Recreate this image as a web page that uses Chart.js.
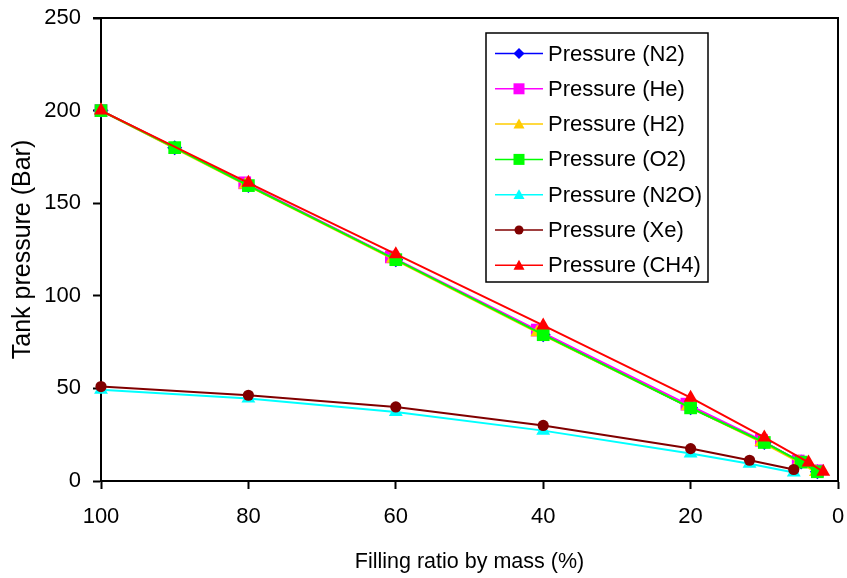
<!DOCTYPE html>
<html>
<head>
<meta charset="utf-8">
<script src="https://cdn.jsdelivr.net/npm/chart.js@4.4.1/dist/chart.umd.min.js"></script>
<style>
  body { margin: 0; background: #fff; }
</style>
</head>
<body>
<canvas id="pressureChart" width="847" height="578"></canvas>
<script>
// filling ratio (%) and tank pressure (bar) for each gas
const fillN2 = [100, 90, 80, 60, 40, 20, 10, 5, 2.8]
const presN2 = [200, 180, 159.5, 119.5, 79, 39.5, 20.8, 10.2, 5]

const fillHe = [100, 80.5, 60.6, 40.8, 20.5, 10.4, 5.4, 2.8]
const presHe = [200, 161, 121, 81.5, 41.5, 22, 10.8, 5.5]

const fillH2 = [100, 80.4, 60.4, 40.8, 20.4, 10.4, 5.3, 3]
const presH2 = [200, 160, 120, 80.3, 40.3, 21, 10.2, 4.8]

const fillO2 = [100, 90, 80, 60, 40, 20, 10, 5, 2.8]
const presO2 = [200, 180, 159.5, 119.5, 79, 39.5, 20.8, 10.2, 5]

const fillN2O = [100, 80, 60, 40, 20, 12, 6]
const presN2O = [49.3, 44.5, 37.2, 27.2, 14.8, 9.3, 4.6]

const fillXe = [100, 80, 60, 40, 20, 12, 6]
const presXe = [51, 46.3, 40, 30, 17.5, 11.2, 6.2]

const fillCH4 = [100, 80, 60, 40, 20, 10, 4, 2]
const presCH4 = [200, 161, 122.5, 84, 45, 23.5, 10, 5]

const xTicks = [100, 80, 60, 40, 20, 0]
const yTicks = [0, 50, 100, 150, 200, 250]

const FONT = "'Liberation Sans', Arial, sans-serif"

function points(xs, ys) {
    return xs.map((x, i) => ({ x: x, y: ys[i] }))
}

let gases = [
    { label: "Pressure (N2)", xs: fillN2, ys: presN2, color: "#0000FF", style: "rectRot", r: 7.5 },
    { label: "Pressure (He)", xs: fillHe, ys: presHe, color: "#FF00FF", style: "rect", r: 9 },
    { label: "Pressure (H2)", xs: fillH2, ys: presH2, color: "#FFCC00", style: "triangle", r: 8 },
    { label: "Pressure (O2)", xs: fillO2, ys: presO2, color: "#00FF00", style: "rect", r: 9 },
    { label: "Pressure (N2O)", xs: fillN2O, ys: presN2O, color: "#00FFFF", style: "triangle", r: 8 },
    { label: "Pressure (Xe)", xs: fillXe, ys: presXe, color: "#800000", style: "circle", r: 5.6 },
    { label: "Pressure (CH4)", xs: fillCH4, ys: presCH4, color: "#FF0000", style: "triangle", r: 8 }
]

// last series sits on top, like the spreadsheet it came from
let datasets = gases.map((g, i) => ({
    label: g.label,
    data: points(g.xs, g.ys),
    borderColor: g.color,
    backgroundColor: g.color,
    borderWidth: 2,
    pointStyle: g.style,
    pointRadius: g.r,
    pointBorderWidth: 0,
    pointBackgroundColor: g.color,
    tension: 0,
    clip: false,
    order: gases.length - i
}))

// small marker shapes for the legend box
function marker(ctx, style, x, y, r) {
    ctx.beginPath()
    if (style == "rect") {
        ctx.rect(x - r, y - r, 2 * r, 2 * r)
    } else if (style == "rectRot") {
        ctx.moveTo(x, y - r)
        ctx.lineTo(x + r, y)
        ctx.lineTo(x, y + r)
        ctx.lineTo(x - r, y)
        ctx.closePath()
    } else if (style == "triangle") {
        ctx.moveTo(x, y - r)
        ctx.lineTo(x + r, y + r * 0.8)
        ctx.lineTo(x - r, y + r * 0.8)
        ctx.closePath()
    } else {
        ctx.arc(x, y, r, 0, Math.PI * 2)
    }
    ctx.fill()
}

const plotFrame = {
    id: "plotFrame",
    beforeDatasetsDraw(chart) {
        const { ctx, chartArea } = chart
        ctx.save()
        ctx.strokeStyle = "#000"
        ctx.lineWidth = 2
        ctx.beginPath()
        ctx.moveTo(chartArea.left - 8, chartArea.top)
        ctx.lineTo(chartArea.right, chartArea.top)
        ctx.lineTo(chartArea.right, chartArea.bottom)
        ctx.stroke()
        ctx.restore()
    }
}

const boxLegend = {
    id: "boxLegend",
    afterDraw(chart) {
        const { ctx, chartArea } = chart
        const left = chartArea.right - 352
        const top = chartArea.top + 15
        const w = 222
        const h = 249
        ctx.save()
        ctx.fillStyle = "#fff"
        ctx.fillRect(left, top, w, h)
        ctx.strokeStyle = "#000"
        ctx.lineWidth = 1.5
        ctx.strokeRect(left, top, w, h)
        ctx.font = "22px " + FONT
        ctx.textBaseline = "middle"
        gases.forEach((g, i) => {
            const y = top + 20.5 + i * 35.3
            ctx.strokeStyle = g.color
            ctx.fillStyle = g.color
            ctx.lineWidth = 1.5
            ctx.beginPath()
            ctx.moveTo(left + 9, y)
            ctx.lineTo(left + 57, y)
            ctx.stroke()
            marker(ctx, g.style, left + 33, y, g.style == "circle" ? 4.5 : 5.5)
            ctx.fillStyle = "#000"
            ctx.fillText(g.label, left + 62, y + 1)
        })
        ctx.restore()
    }
}

new Chart("pressureChart", {
    type: "line",
    data: { datasets: datasets },
    plugins: [plotFrame, boxLegend],
    options: {
        responsive: false,
        animation: false,
        layout: { padding: { top: 18, right: 6, left: 0, bottom: 0 } },
        plugins: {
            legend: { display: false },
            tooltip: { enabled: false }
        },
        scales: {
            x: {
                type: "linear",
                reverse: true,
                min: 0,
                max: 100,
                afterBuildTicks: s => { s.ticks = xTicks.map(v => ({ value: v })) },
                afterFit: s => {
                    s.height = 97
                    s.paddingLeft = 0
                    s.paddingRight = 0
                },
                ticks: { color: "#000", font: { family: FONT, size: 22 }, padding: 15 },
                grid: { drawOnChartArea: false, tickLength: 8, tickWidth: 2, tickColor: "#000" },
                border: { color: "#000", width: 2 },
                title: {
                    display: true,
                    text: "Filling ratio by mass (%)",
                    color: "#000",
                    font: { family: FONT, size: 21.5 },
                    padding: { top: 0, bottom: 3 }
                }
            },
            y: {
                min: 0,
                max: 250,
                afterBuildTicks: s => { s.ticks = yTicks.map(v => ({ value: v })) },
                afterFit: s => {
                    s.width = 101
                    s.paddingTop = 0
                    s.paddingBottom = 0
                },
                ticks: { color: "#000", font: { family: FONT, size: 22 }, padding: 12 },
                grid: { drawOnChartArea: false, tickLength: 8, tickWidth: 2, tickColor: "#000" },
                border: { color: "#000", width: 2 },
                title: {
                    display: true,
                    text: "Tank pressure (Bar)",
                    color: "#000",
                    font: { family: FONT, size: 25 },
                    padding: { top: 8, bottom: 0 }
                }
            }
        }
    }
})
</script>
</body>
</html>
